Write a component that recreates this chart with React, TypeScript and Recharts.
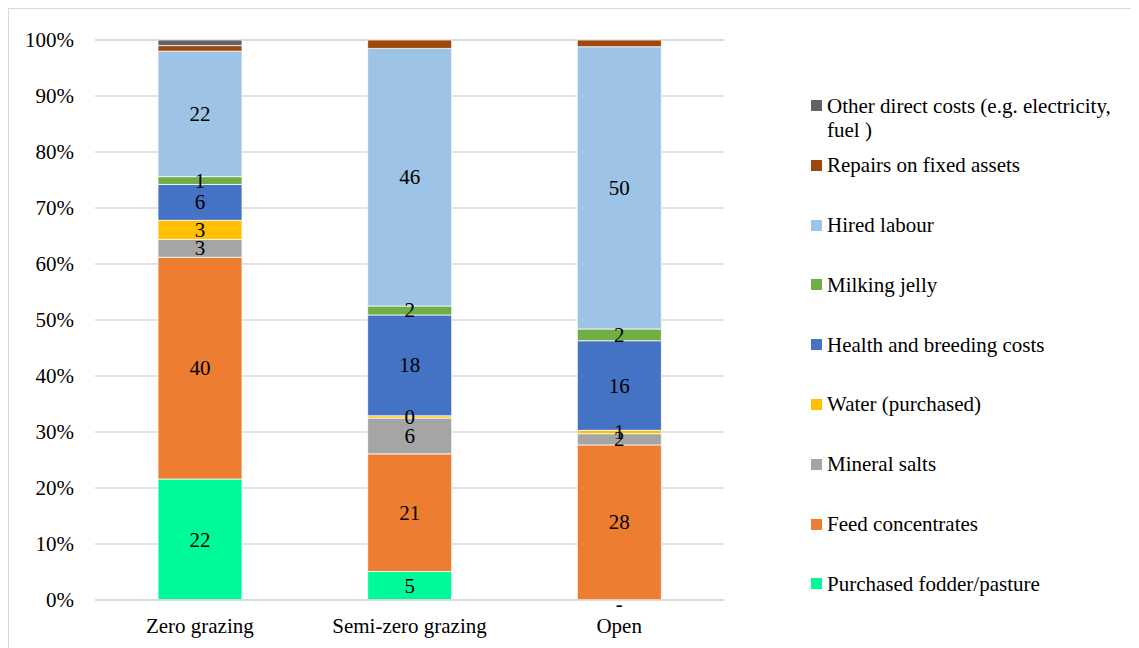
import { Bar, BarChart, CartesianGrid, LabelList, Legend, XAxis, YAxis } from 'recharts';

const categories = ['Zero grazing', 'Semi-zero grazing', 'Open'];

// Share of direct costs (%) per grazing system, listed bottom of the stack first
const purchasedFodder = [21.6, 5.1, 0];
const feedConcentrates = [39.6, 21.0, 27.7];
const mineralSalts = [3.2, 6.4, 2.0];
const waterPurchased = [3.4, 0.4, 0.6];
const healthBreeding = [6.4, 18.0, 16.0];
const milkingJelly = [1.4, 1.6, 2.1];
const hiredLabour = [22.4, 46.0, 50.4];
const repairsFixedAssets = [1.0, 1.5, 1.2];
const otherDirectCosts = [1.0, 0, 0];

const yTicks = [0, 10, 20, 30, 40, 50, 60, 70, 80, 90, 100];

const FONT = "'Liberation Serif', 'Times New Roman', serif";
const FONT_SIZE = 21;

const series = [
  { key: 'fodder', name: 'Purchased fodder/pasture', values: purchasedFodder, color: '#00FA9A', labelled: true },
  { key: 'feed', name: 'Feed concentrates', values: feedConcentrates, color: '#ED7D31', labelled: true },
  { key: 'mineral', name: 'Mineral salts', values: mineralSalts, color: '#A5A5A5', labelled: true },
  { key: 'water', name: 'Water (purchased)', values: waterPurchased, color: '#FFC000', labelled: true },
  { key: 'health', name: 'Health and breeding costs', values: healthBreeding, color: '#4472C4', labelled: true },
  { key: 'milking', name: 'Milking jelly', values: milkingJelly, color: '#70AD47', labelled: true },
  { key: 'hired', name: 'Hired labour', values: hiredLabour, color: '#9DC3E6', labelled: true },
  { key: 'repairs', name: 'Repairs on fixed assets', values: repairsFixedAssets, color: '#9E480E', labelled: false },
  { key: 'other', name: 'Other direct costs (e.g. electricity, fuel )', values: otherDirectCosts, color: '#636363', labelled: false },
];

const data = categories.map((name, i) => {
  const row: Record<string, string | number> = { name };
  series.forEach((s) => {
    row[s.key] = s.values[i];
  });
  return row;
});

// centred value label; an empty cell is shown as a dash, like the source table
function segmentLabel(props: any) {
  const { x, y, width, height, value } = props;
  const empty = Number(value) === 0;
  return (
    <text
      x={Number(x) + Number(width) / 2}
      y={Number(y) + Number(height) / 2 + (empty ? 4 : 0)}
      textAnchor="middle"
      dominantBaseline="central"
      fontSize={FONT_SIZE}
      fontFamily={FONT}
      fill="#000"
    >
      {empty ? '-' : String(Math.round(Number(value)))}
    </text>
  );
}

function CostLegend() {
  return (
    <div style={{ fontFamily: FONT, fontSize: FONT_SIZE, color: '#000' }}>
      {[...series].reverse().map((s) => (
        <div key={s.key} style={{ height: 59.8, display: 'flex', alignItems: 'flex-start', paddingTop: 18, boxSizing: 'border-box' }}>
          <span style={{ width: 11, height: 11, background: s.color, marginTop: 6.5, marginRight: 5, flex: 'none' }} />
          <span style={{ width: 300, lineHeight: '24px' }}>{s.name}</span>
        </div>
      ))}
    </div>
  );
}

export default function App() {
  return (
    <div style={{ width: 1131, height: 640, border: '1px solid #d9d9d9', fontFamily: FONT, background: '#fff' }}>
      <style>{'body{overflow:hidden}'}</style>
      <BarChart
        width={1131}
        height={640}
        data={data}
        margin={{ top: 31, right: 96, bottom: 19, left: 26 }}
        barSize={84}
      >
        <CartesianGrid vertical={false} stroke="#d9d9d9" strokeWidth={1.5} />
        <XAxis
          dataKey="name"
          axisLine={{ stroke: '#d9d9d9', strokeWidth: 1.5 }}
          tickLine={false}
          tickSize={0}
          tickMargin={18}
          tick={{ fill: '#000', fontSize: FONT_SIZE, fontFamily: FONT }}
        />
        <YAxis
          width={60}
          domain={[0, 100]}
          ticks={yTicks}
          tickFormatter={(v: number) => `${v}%`}
          axisLine={false}
          tickLine={false}
          tickSize={0}
          tickMargin={21}
          tick={{ fill: '#000', fontSize: FONT_SIZE, fontFamily: FONT }}
        />
        <Legend
          layout="vertical"
          align="right"
          verticalAlign="top"
          wrapperStyle={{ left: 802, top: 66.5, width: 320 }}
          content={() => <CostLegend />}
        />
        {series.map((s) => (
          <Bar
            key={s.key}
            dataKey={s.key}
            name={s.name}
            stackId="costs"
            fill={s.color}
            stroke="#ffffff"
            strokeWidth={0.75}
            minPointSize={s.key === 'fodder' ? 0.01 : 0}
            isAnimationActive={false}
          >
            {s.labelled && <LabelList dataKey={s.key} content={segmentLabel} />}
          </Bar>
        ))}
      </BarChart>
    </div>
  );
}
